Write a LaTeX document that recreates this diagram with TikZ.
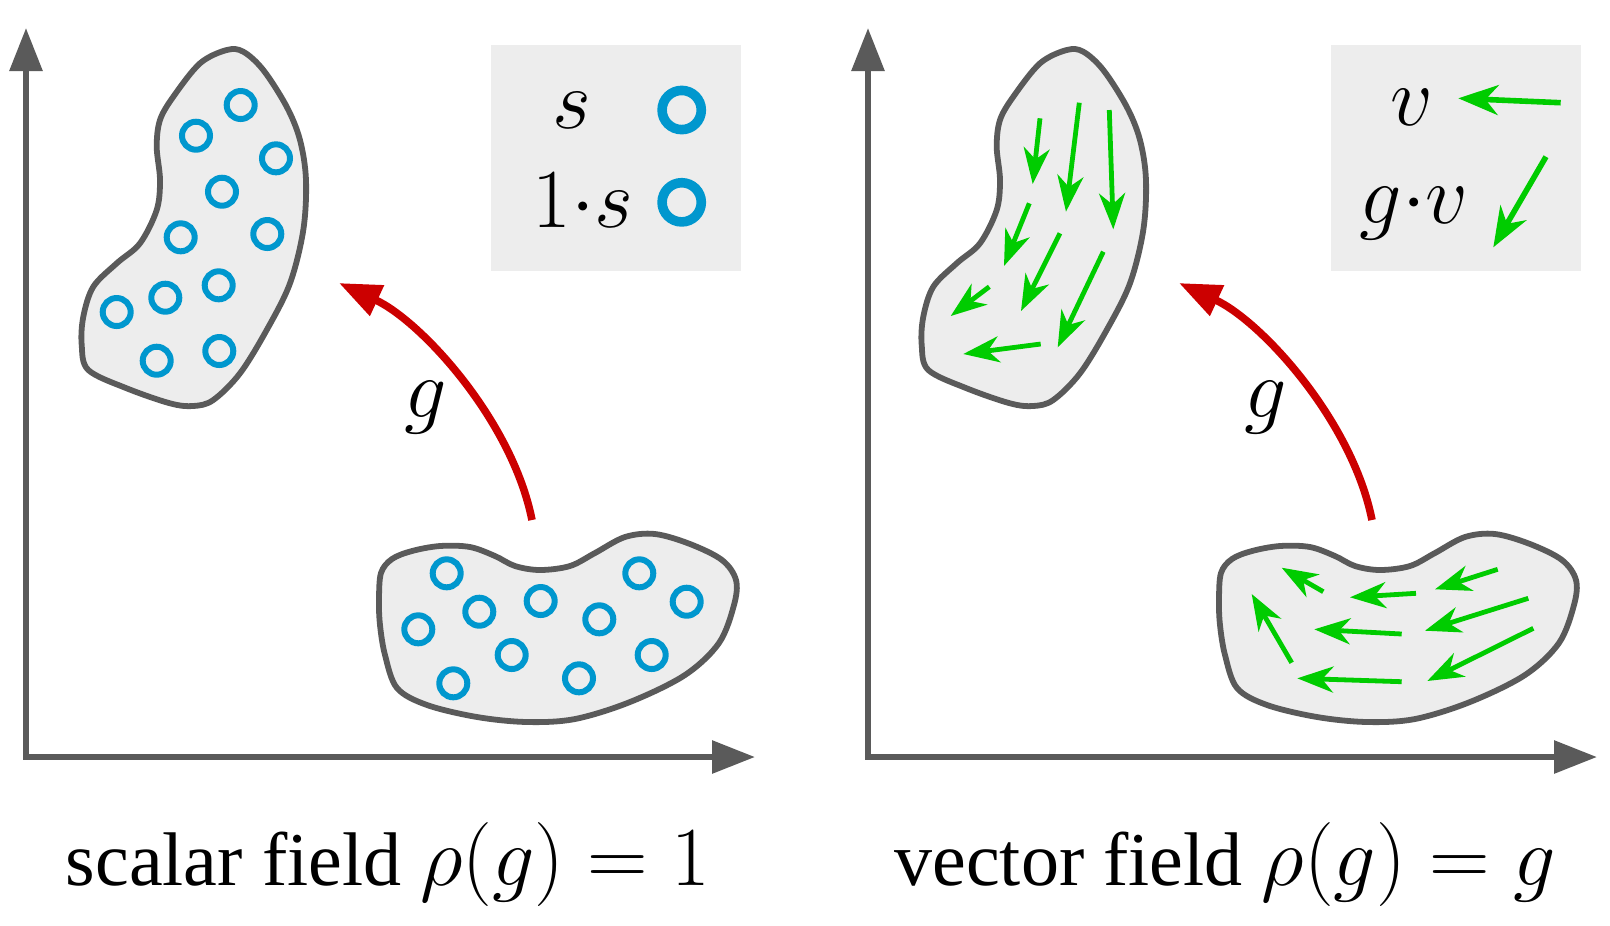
\RequirePackage{fix-cm}
\documentclass[tikz,border=0pt]{standalone}
\usepackage{fontspec}
\newfontfamily\capfont{Liberation Serif}
\usetikzlibrary{arrows.meta}
\definecolor{axisgray}{HTML}{5A5A5A}
\definecolor{blobfill}{HTML}{EDEDED}
\definecolor{ringblue}{HTML}{0097CE}
\definecolor{vgreen}{HTML}{00CC00}
\definecolor{gred}{HTML}{CC0000}
\newcommand\drawupperblob{%
  \draw[blob] plot[smooth cycle, tension=0.55] coordinates {
    (226.7,50) (243.3,51.7) (263.3,70) (286.7,106.7) (300,140) (306,180)
    (303.3,230) (290,283.3) (266.7,330) (240,373.3) (213.3,400) (193.3,406)
    (170,403.3) (126.7,388.3) (88.3,370) (81.7,345) (83.3,316.7) (93.3,286.7)
    (116.7,263.3) (140,243.3) (156.7,210) (160,180) (156.7,146.7) (160,120)
    (173.3,96.7) (200,63.3)};}
\newcommand\drawlowerblob{%
  \draw[blob] plot[smooth cycle, tension=0.55] coordinates {
    (379,600) (381,573) (392,559) (412,551) (440,546) (470,547) (495,556)
    (515,566) (540,570) (570,566) (595,553) (625,537) (655,534) (690,544)
    (722,560) (736,580) (734,605) (719,643) (685,675) (630,702) (575,719)
    (527,722) (477,717) (427,705) (397,688) (385,655) (380,625)};}
\newcommand\captext[1]{{\capfont\fontsize{19}{23}\selectfont #1 }}
\begin{document}
\begin{tikzpicture}[x=0.25pt, y=-0.25pt,
  axes/.style={draw=axisgray, line width=1.5pt, line join=miter,
    {Triangle[length=10.75pt,width=8pt]}-{Triangle[length=10.75pt,width=8pt]}},
  blob/.style={draw=axisgray, fill=blobfill, line width=1.45pt},
  ring/.style={draw=ringblue, line width=1.5pt},
  legring/.style={draw=ringblue, line width=2.4pt},
  vec/.style={draw=vgreen, line width=1.2pt, -{Stealth[length=9pt,width=6.5pt,inset=2.8pt]}},
  legvec/.style={draw=vgreen, line width=1.4pt, -{Stealth[length=10pt,width=7.5pt,inset=3.2pt]}},
  gmap/.style={draw=gred, line width=1.9pt, -{Triangle[length=10.5pt,width=8pt]}},
  legbox/.style={fill=blobfill, draw=none},
  mathlbl/.style={inner sep=0pt, anchor=base, font=\fontsize{21}{25}\selectfont},
  caption/.style={inner sep=0pt, anchor=base, font=\fontsize{21}{25}\selectfont}]
\useasboundingbox (0,0) rectangle (1610,925);

% ---------- axes ----------
\foreach \ax/\p in {26/L, 868/R} {
  \coordinate (orig\p) at (\ax,757);
  \coordinate (ytip\p) at (\ax,28);
  \coordinate (xtip\p) at ({\ax+729},757);
  \draw[axes] (ytip\p) -- (orig\p) -- (xtip\p);
}

% ---------- blobs, legend boxes, g maps ----------
\foreach \sx/\p in {0/L, 840/R} {
  \begin{scope}[shift={(\sx,0)}]
    \drawupperblob
    \drawlowerblob
    \fill[legbox] (491,45) rectangle (741,271);
    \coordinate (gs\p) at (532,520);
    \coordinate (ge\p) at (339,283);
    \draw[gmap] (gs\p) .. controls (512,420) and (421,321) .. (ge\p);
    \node[mathlbl] (g\p) at (426,417) {$g$};
  \end{scope}
}

% ---------- scalar field: rings ----------
\foreach \x/\y in {240.7/105, 196/135.7, 276/158.3, 222/191.7, 267.3/234,
  180.7/237.3, 218.7/285.3, 165.3/297.7, 116.7/312, 219.3/351, 156.7/360.7,
  446.7/573.3, 418.3/629.3, 479.3/611.7, 540.7/601, 511.7/655, 453.3/683.3,
  599.3/619.3, 639.3/573.3, 686.7/601.7, 651.7/655, 579/678.3}
  \draw[ring] (\x,\y) circle[radius=3.5pt];

% legend (scalar)
\node[mathlbl] (legs) at (572,128) {$s$};
\node[mathlbl] (legones) at (583,227) {$1{\cdot}s$};
\draw[legring] (681.7,110) circle[radius=4.9pt];
\draw[legring] (681.7,202.3) circle[radius=4.9pt];

% ---------- vector field: arrows ----------
\foreach \a/\b/\c/\d in {
  1040/118.3/1032.7/184, 1079.3/102.7/1066/211.7, 1109.3/110/1113.3/229.3,
  1029.3/203.3/1004/266, 1060/233.3/1021/311, 1103.3/251.7/1057.7/347.3,
  989.3/286.7/950.7/316, 1040.7/344/963.3/354,
  1323.3/591.7/1281.7/567.7, 1416/593.3/1350/597.3, 1497.7/569.3/1435/589.3,
  1291.7/662.7/1251.7/594, 1401.7/634/1314.3/629.3, 1528.3/598.3/1425/630.7,
  1401.7/681.7/1297.3/678.3, 1533.3/628.3/1427.3/681}
  \draw[vec] (\a,\b) -- (\c,\d);

% legend (vector)
\node[mathlbl] (legv) at (1412,125) {$v$};
\node[mathlbl] (leggv) at (1414,223) {$g{\cdot}v$};
\draw[legvec] (1560.7,102.7) -- (1458.3,98.3);
\draw[legvec] (1546,156.7) -- (1493.3,247.3);

% ---------- captions ----------
\node[caption] (capL) at (388,885) {\captext{scalar field}$\rho(g) = 1$};
\node[caption] (capR) at (1225,885) {\captext{vector field}$\rho(g) = g$};
\end{tikzpicture}
\end{document}
